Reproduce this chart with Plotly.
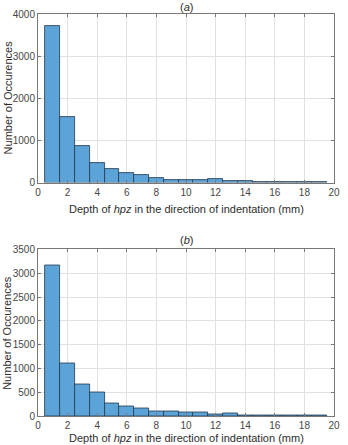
import plotly.graph_objects as go

bin_centers = [1, 2, 3, 4, 5, 6, 7, 8, 9, 10, 11, 12, 13, 14, 15, 16, 17, 18, 19]
counts_a = [3720, 1550, 860, 455, 330, 225, 170, 115, 70, 60, 70, 90, 30, 28, 22, 15, 8, 15, 8]
counts_b = [3160, 1110, 670, 500, 255, 200, 165, 100, 88, 82, 70, 35, 60, 22, 20, 14, 14, 22, 8]
x_ticks = [0, 2, 4, 6, 8, 10, 12, 14, 16, 18, 20]
y_ticks_a = [0, 1000, 2000, 3000, 4000]
y_ticks_b = [0, 500, 1000, 1500, 2000, 2500, 3000, 3500]

FILL = "rgb(92,163,215)"
EDGE = "rgb(35,55,75)"
FONT = "Liberation Sans, Arial, sans-serif"
AX = "rgb(120,120,120)"
GRID = "rgb(225,225,225)"

fig = go.Figure()
fig.add_trace(go.Bar(x=bin_centers, y=counts_a, width=1, marker=dict(color=FILL, line=dict(color=EDGE, width=0.8)),
                     xaxis="x", yaxis="y", showlegend=False))
fig.add_trace(go.Bar(x=bin_centers, y=counts_b, width=1, marker=dict(color=FILL, line=dict(color=EDGE, width=0.8)),
                     xaxis="x2", yaxis="y2", showlegend=False))

H = 445
W = 348
ml, mr, mt, mb = 38, 8, 13, 29
ph = H - mt - mb

def fy(py):
    return (H - mb - py) / ph

xcommon = dict(range=[0, 20], tickvals=x_ticks, showgrid=True, gridcolor=GRID, gridwidth=1,
               showline=True, linecolor=AX, linewidth=1, mirror="ticks", ticks="inside",
               ticklen=3, tickcolor=AX, zeroline=False, tickfont=dict(size=10, color="rgb(70,70,70)", family=FONT))
ycommon = dict(showgrid=True, gridcolor=GRID, gridwidth=1, showline=True, linecolor=AX, linewidth=1,
               mirror="ticks", ticks="inside", ticklen=3, tickcolor=AX, zeroline=False,
               tickfont=dict(size=10, color="rgb(70,70,70)", family=FONT))

fig.update_layout(
    width=W, height=H,
    margin=dict(l=ml, r=mr, t=mt, b=mb),
    paper_bgcolor="white", plot_bgcolor="white",
    bargap=0,
    xaxis=dict(domain=[0, 1], anchor="y", **xcommon),
    yaxis=dict(domain=[fy(182), 1], anchor="x", range=[0, 4000], tickvals=y_ticks_a, **ycommon),
    xaxis2=dict(domain=[0, 1], anchor="y2", **xcommon),
    yaxis2=dict(domain=[0, fy(249)], anchor="x2", range=[0, 3500], tickvals=y_ticks_b, **ycommon),
    font=dict(family=FONT),
)

ann_font = dict(size=11, color="rgb(45,45,45)", family=FONT)
xtitle = "Depth of <i>hpz</i> in the direction of indentation (mm)"
ytitle = "Number of Occurences"
anns = [
    dict(text="(<i>a</i>)", x=0.5, xref="paper", y=fy(6), yref="paper", showarrow=False, font=ann_font, xanchor="center", yanchor="middle"),
    dict(text="(<i>b</i>)", x=0.5, xref="paper", y=fy(240), yref="paper", showarrow=False, font=ann_font, xanchor="center", yanchor="middle"),
    dict(text=xtitle, x=0.5, xref="paper", y=fy(208), yref="paper", showarrow=False, font=ann_font, xanchor="center", yanchor="middle"),
    dict(text=xtitle, x=0.5, xref="paper", y=fy(438), yref="paper", showarrow=False, font=ann_font, xanchor="center", yanchor="middle"),
    dict(text=ytitle, x=(7 - ml) / (W - ml - mr), xref="paper", y=fy(97), yref="paper", showarrow=False, font=ann_font, textangle=-90, xanchor="center", yanchor="middle"),
    dict(text=ytitle, x=(7 - ml) / (W - ml - mr), xref="paper", y=fy(333), yref="paper", showarrow=False, font=ann_font, textangle=-90, xanchor="center", yanchor="middle"),
]
fig.update_layout(annotations=anns)

fig.write_html("out.html")
